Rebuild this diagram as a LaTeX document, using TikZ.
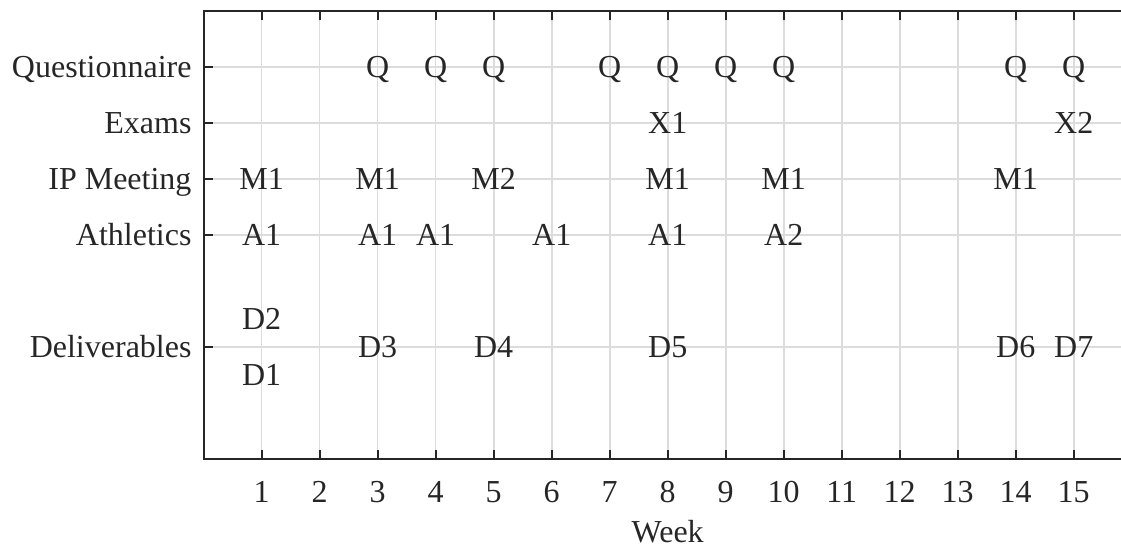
\documentclass[tikz,border=0pt]{standalone}
\usepackage{fontspec}
\setmainfont{Liberation Serif}
\definecolor{axc}{HTML}{262626}
\definecolor{gridc}{HTML}{DCDCDC}
\begin{document}
\begin{tikzpicture}[x=58pt,y=56pt,
  lab/.style={text=axc,font=\fontsize{32}{38}\selectfont,inner sep=0pt,text height=22pt,text depth=0pt},
  gridline/.style={draw=gridc,line width=1.6pt},
  axisline/.style={draw=axc,line width=1.8pt},
  tickline/.style={draw=axc,line width=1.8pt}]
\useasboundingbox (-3.512,-2.589) rectangle (15.8155,7.196);
\clip (-3.512,-2.589) rectangle (15.8155,7.196);
% grid
\foreach \x in {1,...,15} \draw[gridline] (\x,-1) -- (\x,7);
\foreach \y in {1,3,4,5,6} \draw[gridline] (0,\y) -- (16,\y);
% axes box
\draw[axisline] (0,-1) rectangle (16,7);
% ticks
\foreach \x in {1,...,15} {
  \draw[tickline] (\x,-1) -- ++(0,9pt);
  \draw[tickline] (\x,7) -- ++(0,-9pt);
  \node[lab] (xt\x) at ([yshift=-33pt]\x,-1) {\x};
}
\foreach \y in {1,3,4,5,6} \draw[tickline] (0,\y) -- ++(9pt,0);
% y tick labels
\node[lab,anchor=east] (yq) at ([xshift=-12pt]0,6) {Questionnaire};
\node[lab,anchor=east] (yx) at ([xshift=-12pt]0,5) {Exams};
\node[lab,anchor=east] (ym) at ([xshift=-12pt]0,4) {IP Meeting};
\node[lab,anchor=east] (ya) at ([xshift=-12pt]0,3) {Athletics};
\node[lab,anchor=east] (yd) at ([xshift=-12pt]0,1) {Deliverables};
\node[lab] (week) at ([yshift=-73pt]8,-1) {Week};
% data labels
\foreach \x in {3,4,5,7,8,9,10,14,15} \node[lab] (q\x) at (\x,6) {Q};
\node[lab] (x1) at (8,5) {X1};
\node[lab] (x2) at (15,5) {X2};
\foreach \x/\t in {1/M1,3/M1,5/M2,8/M1,10/M1,14/M1} \node[lab] (m\x) at (\x,4) {\t};
\foreach \x/\t in {1/A1,3/A1,4/A1,6/A1,8/A1,10/A2} \node[lab] (a\x) at (\x,3) {\t};
\node[lab] (d2) at (1,1.5) {D2};
\node[lab] (d1) at (1,0.5) {D1};
\foreach \x/\t in {3/D3,5/D4,8/D5,14/D6,15/D7} \node[lab] (d\x) at (\x,1) {\t};
\end{tikzpicture}
\end{document}
